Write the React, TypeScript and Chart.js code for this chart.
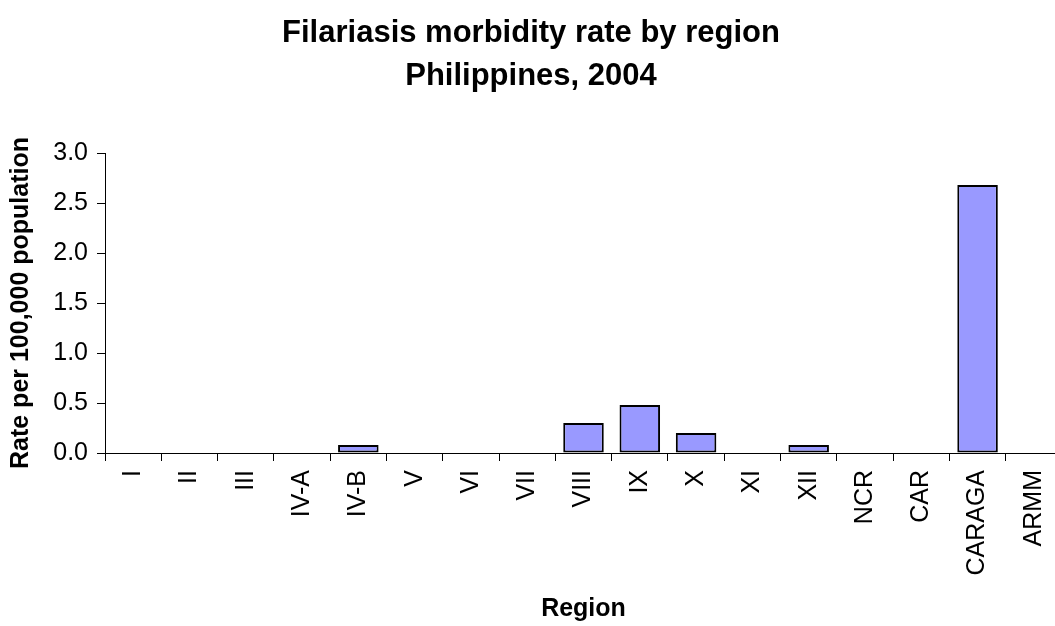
import React, { useEffect, useRef } from "react";
import { Chart, registerables } from "chart.js";

Chart.register(...registerables);

const titleLines = ["Filariasis morbidity rate by region", "Philippines, 2004"];
const regions = ["I", "II", "III", "IV-A", "IV-B", "V", "VI", "VII", "VIII", "IX", "X", "XI", "XII", "NCR", "CAR", "CARAGA", "ARMM"];
const rates = [0, 0, 0, 0, 0.08, 0, 0, 0, 0.3, 0.48, 0.2, 0, 0.08, 0, 0, 2.68, 0];
const yTitle = "Rate per 100,000 population";
const xTitle = "Region";

export default function App() {
  const ref = useRef<HTMLCanvasElement | null>(null);
  useEffect(() => {
    if (!ref.current) return;
    const font = "'Liberation Sans', Arial, sans-serif";
    const chart = new Chart(ref.current, {
      type: "bar",
      data: {
        labels: regions,
        datasets: [
          {
            data: rates,
            backgroundColor: "#9999FF",
            borderColor: "#000000",
            borderWidth: 2,
            borderSkipped: false,
            barPercentage: 0.72,
            categoryPercentage: 1,
          },
        ],
      },
      options: {
        responsive: false,
        animation: false,
        devicePixelRatio: 1,
        layout: { padding: 0 },
        plugins: {
          legend: { display: false },
          tooltip: { enabled: false },
          title: {
            display: true,
            text: titleLines,
            color: "#000",
            font: { family: font, size: 31, weight: "bold", lineHeight: "43px" },
            padding: { top: 12, bottom: 55 },
          },
        },
        scales: {
          x: {
            grid: { drawOnChartArea: false, tickLength: 8, color: "#000", offset: true },
            border: { color: "#000", width: 1 },
            ticks: {
              color: "#000",
              font: { family: font, size: 25 },
              minRotation: 90,
              maxRotation: 90,
              padding: 9,
              autoSkip: false,
            },
            title: {
              display: true,
              text: xTitle,
              color: "#000",
              font: { family: font, size: 25, weight: "bold", lineHeight: 1.2 },
              padding: { top: 0, bottom: 2 },
            },
            afterFit: (s: any) => {
              s.height = 173;
              s.paddingLeft = 0;
              s.paddingRight = 0;
            },
          },
          y: {
            min: 0,
            max: 3,
            grid: { drawOnChartArea: false, tickLength: 8, color: "#000" },
            border: { color: "#000", width: 1 },
            ticks: {
              stepSize: 0.5,
              color: "#000",
              font: { family: font, size: 25 },
              padding: 9,
              callback: (v: any) => Number(v).toFixed(1),
            },
            title: {
              display: true,
              text: yTitle,
              color: "#000",
              font: { family: font, size: 25, weight: "bold", lineHeight: 1.2 },
              padding: { top: 6, bottom: 0 },
            },
            afterFit: (s: any) => {
              s.width = 105;
            },
          },
        },
      },
    });
    return () => chart.destroy();
  }, []);
  return (
    <div style={{ position: "fixed", left: 0, top: 0, width: 1055, height: 626, overflow: "hidden", background: "#fff" }}>
      <canvas ref={ref} width={1062} height={626} style={{ display: "block", width: 1062, height: 626 }} />
    </div>
  );
}
